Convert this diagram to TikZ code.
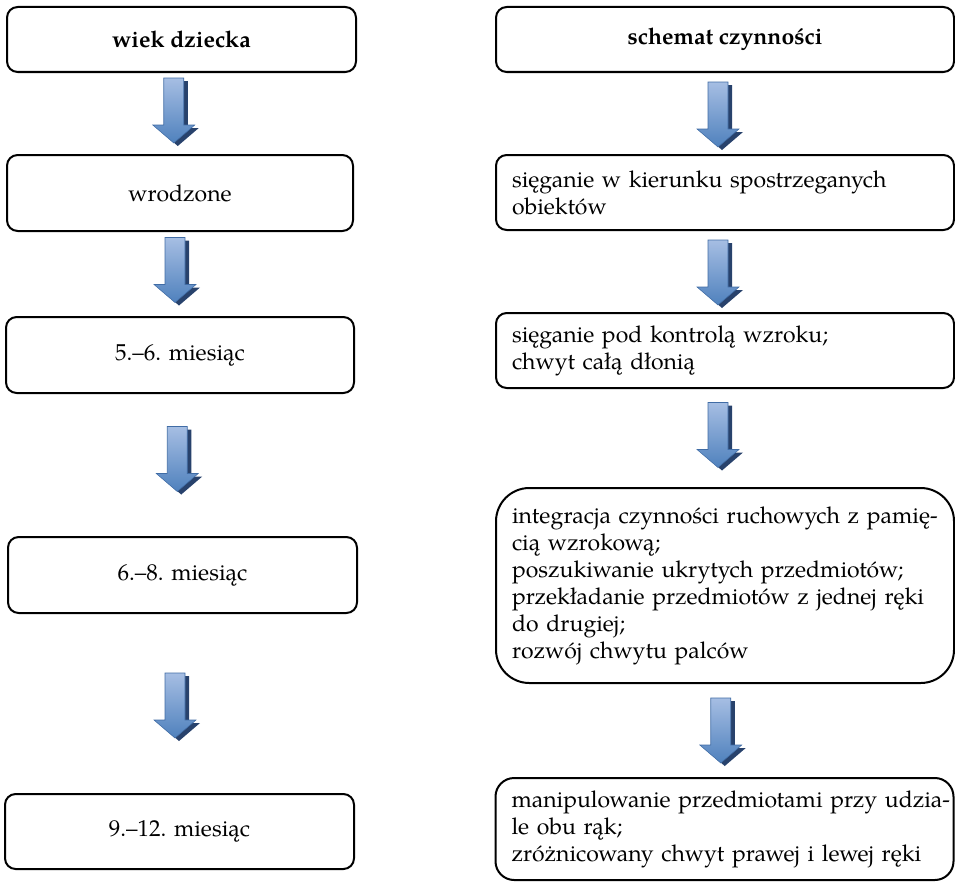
\documentclass[tikz,border=0pt]{standalone}
\usepackage{fontspec}
\setmainfont{texgyrepagella}[Extension=.otf, UprightFont=*-regular,
  BoldFont=*-bold, ItalicFont=*-italic, BoldItalicFont=*-bolditalic]
\usetikzlibrary{calc}

\definecolor{arrowlight}{RGB}{166,190,227}
\definecolor{arrowmid}{RGB}{79,129,189}
\definecolor{arrowedge}{RGB}{64,108,165}
\definecolor{arrowshadow}{RGB}{40,66,108}

\tikzset{
  % rounded frame; #1 = width, #2 = height (in px of the 0.75pt grid)
  frame/.style 2 args={draw=black, line width=1.5pt, rounded corners=8pt,
    minimum width=#1*0.75pt, minimum height=#2*0.75pt, inner sep=0pt,
    font=\fontsize{17.25}{20.25}\selectfont},
  listbox/.style 2 args={frame={458}{#1}, rounded corners=#2,
    text width=319.5pt, inner xsep=12pt, align=left},
  % shaded block arrow pointing down, centred on its origin
  pics/downarrow/.style={code={
    \fill[arrowshadow] (-6,-29.5) -- (14,-29.5) -- (14,17.5) -- (25,17.5)
      -- (4,35.5) -- (-17,17.5) -- (-6,17.5) -- cycle;
    \shade[top color=arrowlight, bottom color=arrowmid, draw=arrowedge,
      line width=0.4pt] (-10,-32.5) -- (10,-32.5) -- (10,14.5) -- (21,14.5)
      -- (0,32.5) -- (-21,14.5) -- (-10,14.5) -- cycle;
  }}
}

\begin{document}
\begin{tikzpicture}[x=0.75pt, y=-0.75pt]
\useasboundingbox (0,0) rectangle (955,881);

% left column: age
\node[frame={349}{65}] (L1) at (181.5,39.5) {\textbf{wiek dziecka}};
\node[frame={346}{76}] (L2) at (180,193) {wrodzone};
\node[frame={348}{76}] (L3) at (180,355) {5.–6. miesiąc};
\node[frame={349}{76}] (L4) at (182.5,575) {6.–8. miesiąc};
\node[frame={349}{75}] (L5) at (179.5,831.5) {9.–12. miesiąc};

% right column: action pattern
\node[frame={458}{65}] (R1) at (725,39.5) {\textbf{schemat czynności}};
\node[listbox={75}{8pt}] (R2) at (725,192.5)
  {sięganie w kierunku spostrzeganych\\obiektów};
\node[listbox={75}{8pt}] (R3) at (725,350.5)
  {sięganie pod kontrolą wzroku;\\chwyt całą dłonią};
\node[listbox={195}{25pt}] (R4) at (725,585.5)
  {\mbox{integracja czynności ruchowych z pamię-}\\cią wzrokową;\\
   poszukiwanie ukrytych przedmiotów;\\
   \mbox{przekładanie przedmiotów z jednej ręki}\\do drugiej;\\
   rozwój chwytu palców};
\node[listbox={102}{14pt}] (R5) at (724.5,829)
  {\mbox{manipulowanie przedmiotami przy udzia-}\\le obu rąk;\\
   \mbox{zróżnicowany chwyt prawej i lewej ręki}};

% arrows between consecutive frames
\pic at ($($(L1.south)!0.5!(L2.north)$)+(-7,-3)$) {downarrow};
\pic at ($($(L2.south)!0.5!(L3.north)$)+(-5,-4)$) {downarrow};
\pic at ($($(L3.south)!0.5!(L4.north)$)+(-4,-6)$) {downarrow};
\pic at ($($(L4.south)!0.5!(L5.north)$)+(-6,2)$) {downarrow};
\pic at ($($(R1.south)!0.5!(R2.north)$)+(-7,1)$) {downarrow};
\pic at ($($(R2.south)!0.5!(R3.north)$)+(-7,1)$) {downarrow};
\pic at ($($(R3.south)!0.5!(R4.north)$)+(-7,-3)$) {downarrow};
\pic at ($($(R4.south)!0.5!(R5.north)$)+(-4,0)$) {downarrow};
\end{tikzpicture}
\end{document}
